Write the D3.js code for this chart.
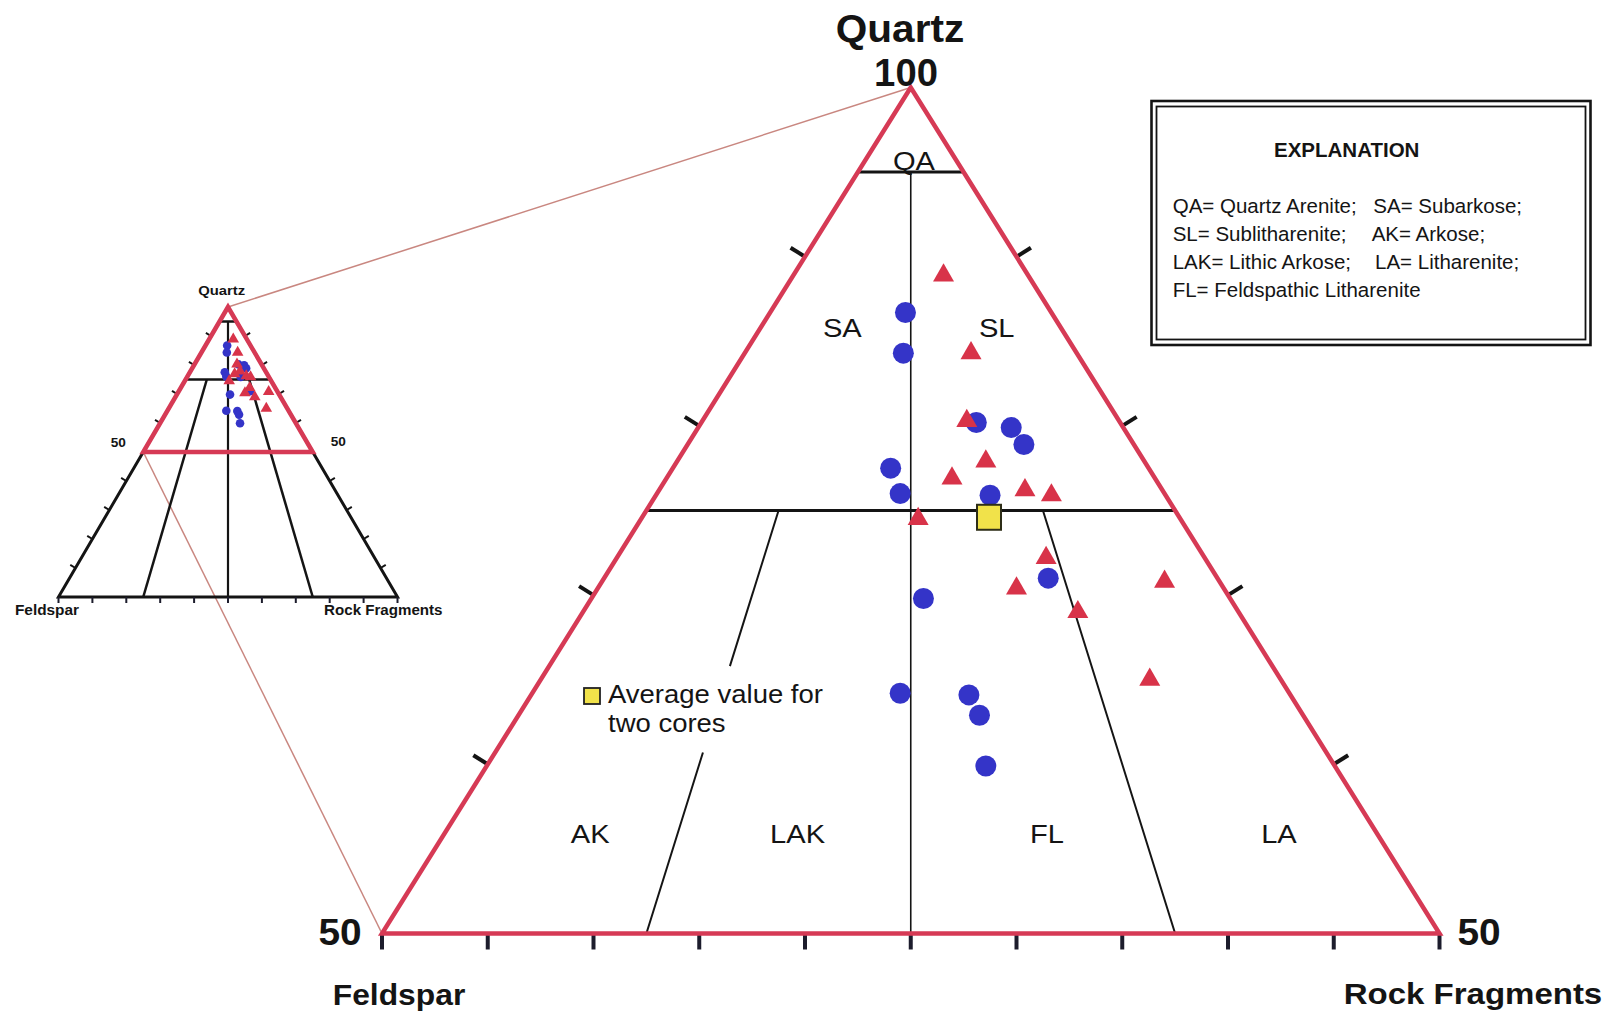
<!DOCTYPE html>
<html>
<head>
<meta charset="utf-8">
<script src="https://cdn.jsdelivr.net/npm/d3@7"></script>
<style>
  html, body { margin: 0; padding: 0; background: #ffffff; }
  svg { display: block; font-family: "Liberation Sans", Arial, Helvetica, sans-serif; }
</style>
</head>
<body>
<svg id="chart" width="1614" height="1016"></svg>
<script>
// ---- Sandstone compositions, percent (Quartz, Feldspar, Rock fragments) ----
// Core samples plotted as circles
const circleQ = [86.7, 84.3, 80.2, 79.9, 78.9, 77.5, 76.0, 75.9, 71.0, 69.8, 64.2, 64.1, 62.9, 59.9];
const circleF = [ 6.9,  8.2,  6.8,  5.3,  5.2, 12.2, 12.5,  8.3,  8.0, 14.5, 18.4, 15.2, 15.3, 16.5];
const circleR = [ 6.4,  7.5, 13.0, 14.8, 15.9, 10.3, 11.5, 15.8, 21.0, 15.7, 17.4, 20.7, 21.8, 23.6];
// Core samples plotted as triangles
const triangleQ = [88.9, 84.3, 80.3, 77.9, 76.9, 76.2, 75.9, 74.5, 72.2, 70.4, 70.8, 69.0, 65.0];
const triangleF = [ 4.0,  5.0,  7.2,  7.5,  9.6,  6.5,  5.4, 12.4,  7.5,  9.8,  2.6,  7.6,  6.2];
const triangleR = [ 7.1, 10.7, 12.5, 14.6, 13.5, 17.3, 18.7, 13.1, 20.3, 19.8, 26.6, 23.4, 28.8];
// Average of the two cores
const averageQFR = [74.6, 9.0, 16.4];

// ---- Folk classification boundaries ----
const quartzLimits = [95, 75];            // horizontal Q boundaries
const feldsparShares = [0.75, 0.5, 0.25]; // F/(F+R) ratio lines
const regionNames = ["QA", "SA", "SL", "AK", "LAK", "FL", "LA"];

// ---- Axis text ----
const poleNames = ["Quartz", "Feldspar", "Rock Fragments"];
const cornerValues = ["100", "50", "50"];
const mainSideTicksQ = [60, 70, 80, 90];
const mainBaseTicks = d3.range(-50, 51, 10);   // (R - F) along Q = 50
const insetSideTicksQ = [10, 20, 30, 40, 60, 70, 80, 90];
const insetBaseTicks = d3.range(-100, 101, 20); // (R - F) along Q = 0

const explanationTitle = "EXPLANATION";
const explanationRows = [
  ["QA= Quartz Arenite;", "SA= Subarkose;"],
  ["SL= Sublitharenite;", "AK= Arkose;"],
  ["LAK= Lithic Arkose;", "LA= Litharenite;"],
  ["FL= Feldspathic Litharenite", ""]
];
const averageLabel = ["Average value for", "two cores"];

// ---- Colours ----
const RED = "#d63a55";
const BLUE = "#3434c8";
const TRI_RED = "#d83349";
const INK = "#141414";
const LINK = "#c98780";

const svg = d3.select("#chart");

// Projections: x from (R - F), y from Q
const main = {
  x: d3.scaleLinear().domain([-50, 50]).range([382, 1439.5]),
  y: d3.scaleLinear().domain([50, 100]).range([933.5, 87.5])
};
const inset = {
  x: d3.scaleLinear().domain([-100, 100]).range([58.5, 397.5]),
  y: d3.scaleLinear().domain([0, 100]).range([597, 307])
};
const project = (p, q, f, r) => [p.x(r - f), p.y(q)];
// point on the line Q = q with feldspar share s of the non-quartz part
const share = (p, q, s) => project(p, q, (100 - q) * s, (100 - q) * (1 - s));

const line = d3.line();

function seg(g, a, b, width, color) {
  g.append("path").attr("d", line([a, b]))
    .attr("stroke", color || INK).attr("stroke-width", width)
    .attr("fill", "none").attr("stroke-linecap", "butt");
}

function label(g, text, x, y, size, weight, sx, anchor) {
  g.append("text")
    .attr("transform", `translate(${x},${y}) scale(${sx || 1},1)`)
    .attr("text-anchor", anchor || "middle")
    .attr("font-size", size)
    .attr("font-weight", weight || "normal")
    .attr("fill", INK)
    .text(text);
}

function ticks(g, p, sideQ, baseVals, len, width, baseLen) {
  const apex = share(p, 100, 0.5);
  const qMin = p.y.domain()[0];
  const bl = share(p, qMin, 1), br = share(p, qMin, 0);
  const normal = (a, b, sign) => {
    const dx = b[0] - a[0], dy = b[1] - a[1], L = Math.hypot(dx, dy);
    return [sign * dy / L, -sign * dx / L];
  };
  const nL = normal(bl, apex, 1);   // outward, left edge
  const nR = normal(br, apex, -1);  // outward, right edge
  sideQ.forEach(q => {
    const a = share(p, q, 1), b = share(p, q, 0);
    seg(g, a, [a[0] + nL[0] * len, a[1] + nL[1] * len], width);
    seg(g, b, [b[0] + nR[0] * len, b[1] + nR[1] * len], width);
  });
  baseVals.forEach(v => {
    const x = p.x(v), y = p.y(qMin);
    seg(g, [x, y], [x, y + baseLen], width, "#1c1c2c");
  });
}

function markers(g, p, circleSize, triSize) {
  const circ = d3.symbol().type(d3.symbolCircle).size(circleSize);
  const tri = d3.symbol().type(d3.symbolTriangle).size(triSize);
  g.selectAll(null).data(d3.range(circleQ.length)).join("path")
    .attr("d", circ)
    .attr("transform", i => `translate(${project(p, circleQ[i], circleF[i], circleR[i])})`)
    .attr("fill", BLUE);
  g.selectAll(null).data(d3.range(triangleQ.length)).join("path")
    .attr("d", tri)
    .attr("transform", i => `translate(${project(p, triangleQ[i], triangleF[i], triangleR[i])})`)
    .attr("fill", TRI_RED);
}

// ---------- Connectors between inset and enlarged diagram ----------
const gLink = svg.append("g");
seg(gLink, share(inset, 100, 0.5), share(main, 100, 0.5), 1.5, LINK);
seg(gLink, share(inset, 50, 1), share(main, 50, 1), 1.5, LINK);

// ---------- Inset: complete QFR triangle ----------
const gi = svg.append("g");
gi.append("path")
  .attr("d", line([share(inset, 100, .5), share(inset, 0, 1), share(inset, 0, 0)]) + "Z")
  .attr("fill", "none").attr("stroke", INK).attr("stroke-width", 3);
seg(gi, share(inset, quartzLimits[0], 1), share(inset, quartzLimits[0], 0), 2.5);
seg(gi, share(inset, quartzLimits[1], 1), share(inset, quartzLimits[1], 0), 2.5);
seg(gi, share(inset, quartzLimits[0], .5), share(inset, 0, .5), 2.2);
[feldsparShares[0], feldsparShares[2]].forEach(s =>
  seg(gi, share(inset, quartzLimits[1], s), share(inset, 0, s), 2.5));
ticks(gi, inset, insetSideTicksQ, insetBaseTicks, 6, 2, 6);
markers(gi, inset, 58, 58);
gi.append("path")
  .attr("d", line([share(inset, 100, .5), share(inset, 50, 1), share(inset, 50, 0)]) + "Z")
  .attr("fill", "none").attr("stroke", RED).attr("stroke-width", 4.5);

label(gi, poleNames[0], 221.7, 295, 13.5, "bold", 1.1);
label(gi, cornerValues[1], 118.3, 447, 13, "bold", 1.05);
label(gi, cornerValues[2], 338.3, 446, 13, "bold", 1.05);
label(gi, poleNames[1], 47, 615, 14, "bold", 1.1);
label(gi, poleNames[2], 383.3, 615, 14, "bold", 1.08);

// ---------- Enlarged upper half (Q 50-100) ----------
const gm = svg.append("g");
seg(gm, share(main, quartzLimits[0], 1), share(main, quartzLimits[0], 0), 3);
seg(gm, share(main, quartzLimits[1], 1), share(main, quartzLimits[1], 0), 2.8);
seg(gm, share(main, quartzLimits[0], .5), share(main, 50, .5), 1.6);
// F:R = 3:1 line, interrupted where the average-value note sits
seg(gm, share(main, quartzLimits[1], feldsparShares[0]), share(main, 65.8, feldsparShares[0]), 2);
seg(gm, share(main, 60.7, feldsparShares[0]), share(main, 50, feldsparShares[0]), 2);
seg(gm, share(main, quartzLimits[1], feldsparShares[2]), share(main, 50, feldsparShares[2]), 2);

ticks(gm, main, mainSideTicksQ, mainBaseTicks, 17, 4, 16);

markers(gm, main, Math.PI * 10.5 * 10.5, 191);

const avg = project(main, averageQFR[0], averageQFR[1], averageQFR[2]);
gm.append("rect")
  .attr("x", avg[0] - 12).attr("y", avg[1] - 12.5)
  .attr("width", 24).attr("height", 25)
  .attr("fill", "#f1e24a").attr("stroke", "#2e2e18").attr("stroke-width", 2);

gm.append("path")
  .attr("d", line([share(main, 100, .5), share(main, 50, 1), share(main, 50, 0)]) + "Z")
  .attr("fill", "none").attr("stroke", RED).attr("stroke-width", 4.5)
  .attr("stroke-linejoin", "miter");

// Region names, anchored in (Q, R - F) space
const regionAnchors = [[95.15, 0.3], [85.27, -6.47], [85.27, 8.13],
                       [55.35, -30.31], [55.35, -10.7], [55.35, 12.88], [55.35, 34.82]];
regionNames.forEach((n, i) => {
  const a = regionAnchors[i];
  label(gm, n, main.x(a[1]), main.y(a[0]), 26, "normal", 1.12);
});

// Pole and corner labels
label(gm, poleNames[0], 900, 41.5, 39, "bold", 1.04);
label(gm, cornerValues[0], 906, 86, 39, "bold", 0.98);
label(gm, cornerValues[1], 340, 945, 37, "bold", 1.05);
label(gm, cornerValues[2], 1479, 945, 37, "bold", 1.05);
label(gm, poleNames[1], 399, 1005, 30, "bold", 1.06);
label(gm, poleNames[2], 1473, 1003.5, 30, "bold", 1.1);

// Average-value note
gm.append("rect").attr("x", 584).attr("y", 688).attr("width", 16).attr("height", 16)
  .attr("fill", "#f1e24a").attr("stroke", "#222").attr("stroke-width", 1.8);
label(gm, averageLabel[0], 608, 703, 25, "normal", 1.1, "start");
label(gm, averageLabel[1], 608, 732, 25, "normal", 1.1, "start");

// ---------- Explanation box ----------
const gl = svg.append("g");
gl.append("rect").attr("x", 1151.5).attr("y", 101).attr("width", 439).attr("height", 244)
  .attr("fill", "#fff").attr("stroke", INK).attr("stroke-width", 2.6);
gl.append("rect").attr("x", 1156.5).attr("y", 106.5).attr("width", 429).attr("height", 233)
  .attr("fill", "none").attr("stroke", INK).attr("stroke-width", 1.8);
label(gl, explanationTitle, 1346.7, 156.7, 20.5, "bold", 1.0);
const colX = [1172.7, [1373.3, 1371.7, 1375, 0]];
explanationRows.forEach((row, i) => {
  const y = 212.5 + i * 28;
  label(gl, row[0], colX[0], y, 20.5, "normal", 1.0, "start");
  if (row[1]) label(gl, row[1], colX[1][i], y, 20.5, "normal", 1.0, "start");
});
</script>
</body>
</html>
